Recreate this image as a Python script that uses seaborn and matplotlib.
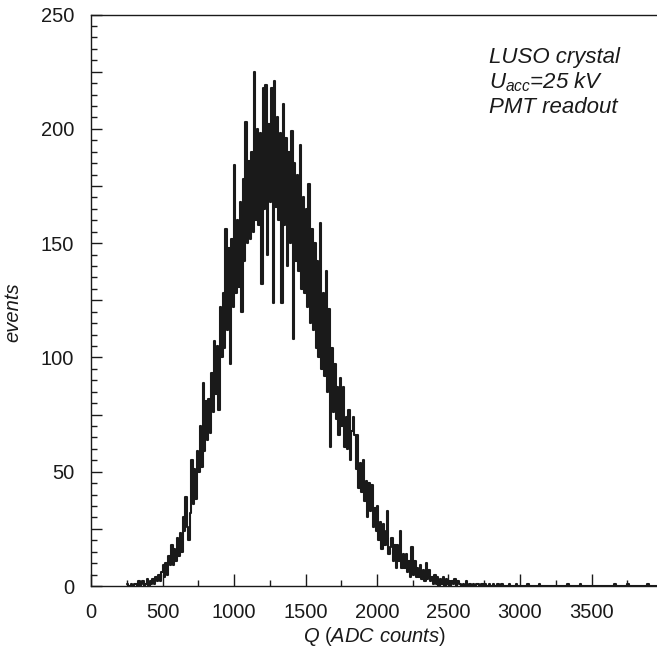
import numpy as np
import pandas as pd
import matplotlib
matplotlib.use("Agg")
import matplotlib.pyplot as plt
import seaborn as sns
from matplotlib.ticker import MultipleLocator, FuncFormatter

# ---------------- data ----------------
bin_width = 10          # ADC counts per bin
first_bin = 250         # left edge of first bin
counts = [
    1, 0, 0, 1, 0, 1, 1, 0, 2, 0, 1, 2, 0, 1, 3, 0, 2, 1, 3, 1, 4, 2, 5, 2, 6,   # 250-490
    9, 4, 10, 5, 13, 9, 18, 9, 16, 11,                  # 500
    21, 13, 23, 15, 30, 24, 39, 26, 20, 32,             # 600
    55, 36, 51, 38, 59, 50, 70, 52, 89, 59,             # 700
    81, 64, 82, 67, 93, 76, 107, 84, 105, 77,           # 800
    122, 100, 128, 104, 156, 112, 148, 97, 152, 122,    # 900
    184, 128, 160, 131, 168, 120, 178, 142, 203, 150,   # 1000
    186, 152, 190, 155, 225, 160, 200, 158, 198, 132,   # 1100
    218, 165, 219, 145, 202, 168, 218, 124, 221, 166,   # 1200
    205, 160, 198, 124, 211, 158, 196, 140, 190, 150,   # 1300
    199, 108, 185, 142, 180, 138, 193, 130, 170, 128,   # 1400
    165, 122, 176, 115, 156, 112, 150, 104, 142, 100,   # 1500
    159, 95, 128, 92, 138, 85, 121, 61, 104, 76,        # 1600
    97, 73, 87, 66, 91, 70, 87, 61, 74, 60,             # 1700
    77, 55, 68, 74, 66, 51, 66, 43, 54, 41,             # 1800
    55, 37, 46, 30, 45, 33, 44, 26, 34, 24,             # 1900
    35, 20, 28, 16, 27, 18, 24, 33, 14, 17,             # 2000
    21, 11, 18, 8, 18, 11, 24, 8, 14, 8,                # 2100
    14, 6, 11, 4, 17, 5, 11, 4, 8, 4,                   # 2200
    9, 3, 7, 2, 10, 3, 7, 2, 4, 1,                      # 2300
    5, 1, 4, 0, 3, 1, 4, 0, 3, 1,                       # 2400
    2, 0, 2, 1, 3, 0, 2, 1, 1, 0,                       # 2500
    1, 0, 2, 0, 1, 1, 0, 1, 0, 1,                       # 2600
    1, 0, 0, 1, 0, 1, 0, 0, 1, 0,                       # 2700
    0, 1, 0, 0, 1, 0, 0, 1, 0, 0,                       # 2800
    0, 0, 1, 0, 0, 0, 0, 1, 0, 0,                       # 2900
]
tail_q = [3055, 3135, 3335, 3425, 3665, 3755, 3895]   # isolated single events
tail_n = [1, 1, 1, 1, 1, 1, 1]

x_ticks = [0, 500, 1000, 1500, 2000, 2500, 3000, 3500]
y_ticks = [0, 50, 100, 150, 200, 250]
x_label_parts = ("Q", "ADC counts")
y_label = "events"
notes = ["LUSO crystal", r"$U_{acc}$=25 kV", "PMT readout"]

# ---------------- style ----------------
sns.set_style("ticks")
plt.rcParams.update({
    "font.family": ["Liberation Sans", "DejaVu Sans"],
    "mathtext.fontset": "custom",
    "mathtext.rm": "Liberation Sans",
    "mathtext.it": "Liberation Sans:italic",
    "mathtext.bf": "Liberation Sans:bold",
    "axes.edgecolor": "#1a1a1a",
    "axes.linewidth": 1.0,
    "text.color": "#1a1a1a",
    "xtick.color": "#1a1a1a",
    "ytick.color": "#1a1a1a",
})

q_main = first_bin + bin_width * np.arange(len(counts)) + bin_width / 2
df = pd.DataFrame({
    "q": np.concatenate([q_main, np.array(tail_q, dtype=float)]),
    "n": [float(v) for v in counts] + [float(v) for v in tail_n],
})

W, H = 657, 656
fig = plt.figure(figsize=(W / 100, H / 100), dpi=100)
fig.patch.set_facecolor("white")
ax = fig.add_axes([91 / W, 70 / H, 572 / W, 571.5 / H])

sns.histplot(data=df, x="q", weights="n", binwidth=bin_width,
             binrange=(first_bin, 4000), element="step",
             fill=False, color="#1a1a1a", linewidth=1.5, ax=ax)

ax.set_xlim(0, 4000)
ax.set_ylim(0, 250)
ax.set_xlabel("")
ax.set_ylabel("")
ax.spines["right"].set_visible(False)
ax.spines["top"].set_visible(True)

ax.xaxis.set_major_locator(MultipleLocator(500))
ax.xaxis.set_minor_locator(MultipleLocator(250))
ax.yaxis.set_major_locator(MultipleLocator(25))
ax.yaxis.set_minor_locator(MultipleLocator(5))
ax.yaxis.set_major_formatter(FuncFormatter(lambda v, p: f"{int(round(v))}" if int(round(v)) in y_ticks else ""))
ax.xaxis.set_major_formatter(FuncFormatter(lambda v, p: f"{int(round(v))}" if int(round(v)) in x_ticks else ""))

ax.tick_params(axis="both", which="both", direction="in", top=False, right=False)
ax.tick_params(axis="y", which="major", length=8, width=1.0, pad=12, labelsize=14.5)
ax.tick_params(axis="y", which="minor", length=4, width=1.0)
ax.tick_params(axis="x", which="major", length=8.5, width=1.0, pad=12.5, labelsize=14.5)
ax.tick_params(axis="x", which="minor", length=4.5, width=1.0)

fig.text(374 / W, 1 - 637 / H,
         r"$\mathit{%s}$ ($\mathit{ADC\ counts}$)" % x_label_parts[0],
         ha="center", va="center", fontsize=14.5)
fig.text(13 / W, 1 - 312 / H, y_label, rotation=90, style="italic",
         ha="center", va="center", fontsize=14.5)

baselines = [63, 88, 113]
for txt, yb in zip(notes, baselines):
    fig.text(489 / W, 1 - yb / H, txt, style="italic", ha="left",
             va="baseline", fontsize=16)

fig.savefig("out.png", dpi=100, facecolor="white")
